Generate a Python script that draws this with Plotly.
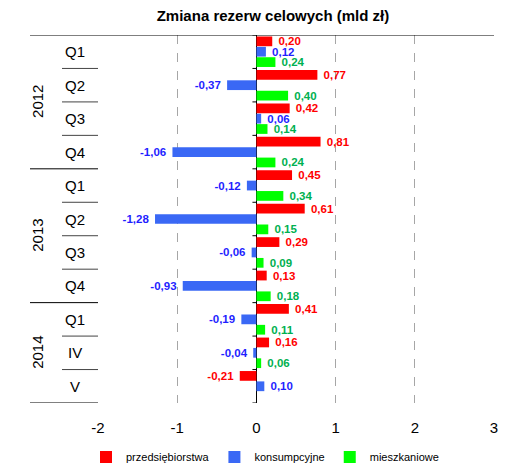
import plotly.graph_objects as go

# Periods (year block + sub-period) and changes of provisions, bln PLN
years = ["2012"] * 4 + ["2013"] * 4 + ["2014"] * 3
periods = ["Q1", "Q2", "Q3", "Q4", "Q1", "Q2", "Q3", "Q4", "Q1", "IV", "V"]
przedsiebiorstwa = [0.20, 0.77, 0.42, 0.81, 0.45, 0.61, 0.29, 0.13, 0.41, 0.16, -0.21]
konsumpcyjne = [0.12, -0.37, 0.06, -1.06, -0.12, -1.28, -0.06, -0.93, -0.19, -0.04, 0.10]
mieszkaniowe = [0.24, 0.40, 0.14, 0.24, 0.34, 0.15, 0.09, 0.18, 0.11, 0.06, None]
x_ticks = [-2, -1, 0, 1, 2, 3]
x_tick_labels = ["-2", "-1", "0", "1", "2", "3"]

series = [
    ("przedsiębiorstwa", przedsiebiorstwa, "#ff0000", "#ff0000"),
    ("konsumpcyjne", konsumpcyjne, "#3a68f5", "#1f1fff"),
    ("mieszkaniowe", mieszkaniowe, "#00ff00", "#00b050"),
]

FONT = "Liberation Sans, Arial, sans-serif"
NB = "\u00a0"
pos = list(range(len(periods)))

fig = go.Figure()
for name, vals, col, tcol in series:
    # a non-breaking space keeps the value label a little away from the bar end
    tmpl = [("%{x:.2f}" + NB) if (v is not None and v < 0) else (NB + "%{x:.2f}")
            for v in vals]
    fig.add_trace(go.Bar(
        name=name, x=vals, y=pos, orientation="h",
        marker=dict(color=col, line=dict(width=0)),
        texttemplate=tmpl, textposition="outside",
        textfont=dict(family=FONT, size=11.5, color=tcol, weight="bold"),
        constraintext="none", cliponaxis=False,
    ))

L, R = 98, 494
W = R - L
def px(x):
    return (x - L) / W

shapes = []
# top border across the whole chart
shapes.append(dict(type="line", xref="paper", yref="y", x0=px(30), x1=1,
                   y0=-0.5, y1=-0.5, line=dict(color="black", width=1)))
# bottom border of the category block
shapes.append(dict(type="line", xref="paper", yref="y", x0=px(30), x1=0,
                   y0=len(pos) - 0.5, y1=len(pos) - 0.5, line=dict(color="black", width=1)))
for i in range(1, len(pos)):
    year_break = years[i] != years[i - 1]
    shapes.append(dict(type="line", xref="paper", yref="y",
                       x0=px(30) if year_break else px(62), x1=0,
                       y0=i - 0.5, y1=i - 0.5,
                       line=dict(color="#444444" if not year_break else "black", width=1)))
# small ticks on the zero line at group boundaries
for i in range(len(pos) + 1):
    shapes.append(dict(type="line", xref="x", yref="y", x0=-0.05, x1=0,
                       y0=i - 0.5, y1=i - 0.5, line=dict(color="black", width=1)))

annotations = []
for i, p in enumerate(periods):
    annotations.append(dict(text=p, xref="paper", yref="y", x=px(75), y=i,
                            showarrow=False, xanchor="center", yanchor="middle",
                            font=dict(family=FONT, size=15, color="black")))
for yr in dict.fromkeys(years):
    idx = [i for i, y in enumerate(years) if y == yr]
    annotations.append(dict(text=yr, xref="paper", yref="y", x=px(38),
                            y=(idx[0] + idx[-1]) / 2, textangle=-90,
                            showarrow=False, xanchor="center", yanchor="middle",
                            font=dict(family=FONT, size=15, color="black")))

fig.update_layout(
    width=515, height=464,
    margin=dict(l=L, r=515 - R, t=35, b=464 - 403),
    paper_bgcolor="white", plot_bgcolor="white",
    separators=", ",
    barmode="group", bargap=0.07, bargroupgap=0.06,
    title=dict(text="<b>Zmiana rezerw celowych (mld zł)</b>", x=273 / 515, xanchor="center",
               y=1 - 16 / 464, yanchor="middle",
               font=dict(family=FONT, size=15, color="black")),
    xaxis=dict(range=[-2, 3], tickmode="array", tickvals=x_ticks, ticktext=x_tick_labels,
               showgrid=True, gridcolor="#a6a6a6", griddash="dash", gridwidth=1,
               zeroline=True, zerolinecolor="black", zerolinewidth=1,
               showline=False, ticks="", ticklabelstandoff=14, automargin=False,
               tickfont=dict(family=FONT, size=15, color="black"), fixedrange=True),
    yaxis=dict(range=[len(pos) - 0.5, -0.5], showticklabels=False, showgrid=False,
               zeroline=False, showline=False, fixedrange=True, automargin=False),
    legend=dict(orientation="h", xref="container", yref="container",
                x=86 / 515, xanchor="left", y=(464 - 457) / 464, yanchor="middle",
                font=dict(family=FONT, size=11, color="black"),
                itemwidth=30, traceorder="normal"),
    shapes=shapes, annotations=annotations,
)

fig.write_html("out.html")
